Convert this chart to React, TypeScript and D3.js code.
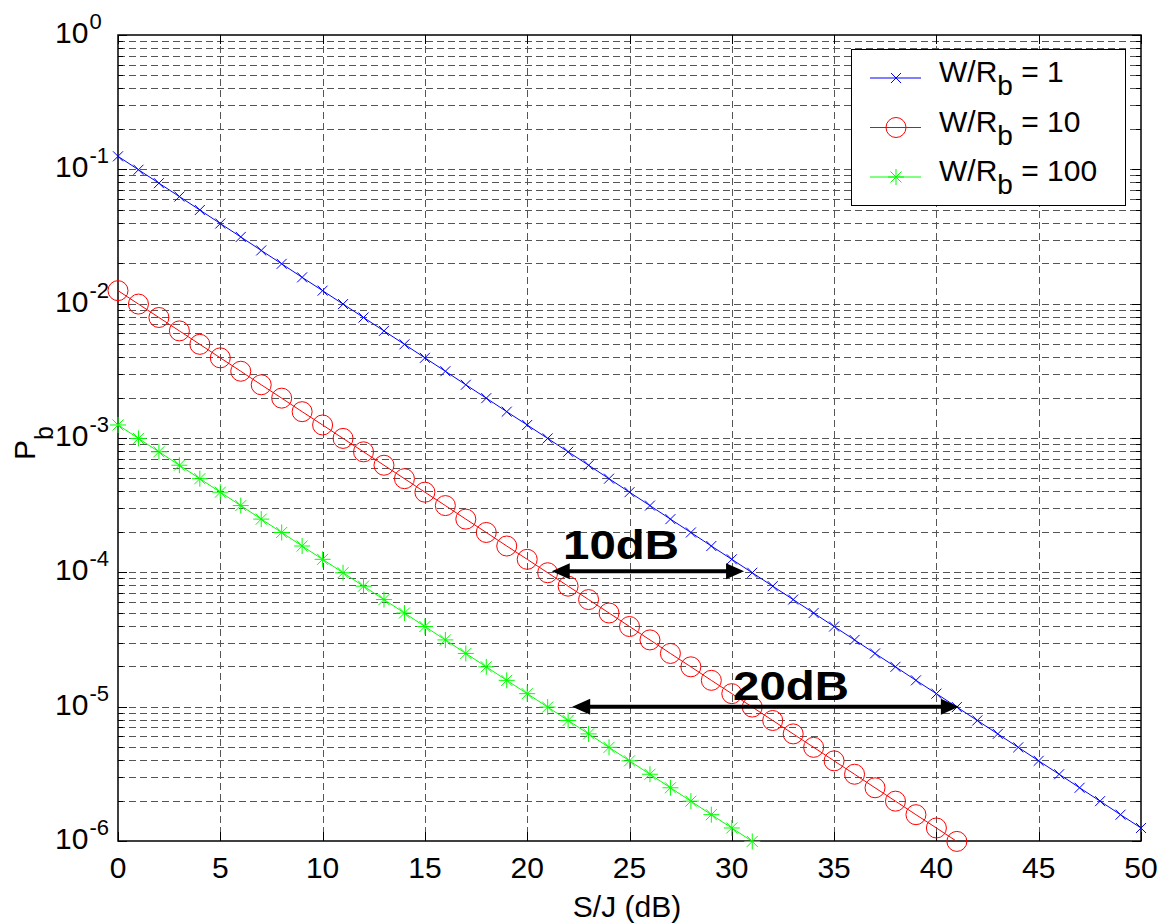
import React, { useEffect, useRef } from 'react';
import * as d3 from 'd3';

// S/J in dB, one point per dB
const sjDb = [
  0, 1, 2, 3, 4, 5, 6, 7, 8, 9, 10, 11, 12, 13, 14, 15, 16, 17, 18, 19, 20,
  21, 22, 23, 24, 25, 26, 27, 28, 29, 30, 31, 32, 33, 34, 35, 36, 37, 38, 39, 40,
  41, 42, 43, 44, 45, 46, 47, 48, 49, 50,
];

const pbW1 = [
  1.25e-1, 9.93e-2, 7.89e-2, 6.27e-2, 4.98e-2, 3.95e-2, 3.14e-2, 2.49e-2, 1.98e-2, 1.57e-2,
  1.25e-2, 9.93e-3, 7.89e-3, 6.27e-3, 4.98e-3, 3.95e-3, 3.14e-3, 2.49e-3, 1.98e-3, 1.57e-3,
  1.25e-3, 9.93e-4, 7.89e-4, 6.27e-4, 4.98e-4, 3.95e-4, 3.14e-4, 2.49e-4, 1.98e-4, 1.57e-4,
  1.25e-4, 9.93e-5, 7.89e-5, 6.27e-5, 4.98e-5, 3.95e-5, 3.14e-5, 2.49e-5, 1.98e-5, 1.57e-5,
  1.25e-5, 9.93e-6, 7.89e-6, 6.27e-6, 4.98e-6, 3.95e-6, 3.14e-6, 2.49e-6, 1.98e-6, 1.57e-6,
  1.25e-6,
];

const pbW10 = [
  1.25e-2, 9.93e-3, 7.89e-3, 6.27e-3, 4.98e-3, 3.95e-3, 3.14e-3, 2.49e-3, 1.98e-3, 1.57e-3,
  1.25e-3, 9.93e-4, 7.89e-4, 6.27e-4, 4.98e-4, 3.95e-4, 3.14e-4, 2.49e-4, 1.98e-4, 1.57e-4,
  1.25e-4, 9.93e-5, 7.89e-5, 6.27e-5, 4.98e-5, 3.95e-5, 3.14e-5, 2.49e-5, 1.98e-5, 1.57e-5,
  1.25e-5, 9.93e-6, 7.89e-6, 6.27e-6, 4.98e-6, 3.95e-6, 3.14e-6, 2.49e-6, 1.98e-6, 1.57e-6,
  1.25e-6, 9.93e-7,
];

const pbW100 = [
  1.25e-3, 9.93e-4, 7.89e-4, 6.27e-4, 4.98e-4, 3.95e-4, 3.14e-4, 2.49e-4, 1.98e-4, 1.57e-4,
  1.25e-4, 9.93e-5, 7.89e-5, 6.27e-5, 4.98e-5, 3.95e-5, 3.14e-5, 2.49e-5, 1.98e-5, 1.57e-5,
  1.25e-5, 9.93e-6, 7.89e-6, 6.27e-6, 4.98e-6, 3.95e-6, 3.14e-6, 2.49e-6, 1.98e-6, 1.57e-6,
  1.25e-6, 9.93e-7,
];

const xTicks = [0, 5, 10, 15, 20, 25, 30, 35, 40, 45, 50];
const yExponents = [0, -1, -2, -3, -4, -5, -6];
const legendLabels = ['1', '10', '100'];

// annotation arrows, from dB / to dB at a Pb level
const arrows = [
  { x0: 21.2, x1: 30.6, y: 1.02e-4, label: '10dB', tx: 563, ty: 559 },
  { x0: 22.2, x1: 41.1, y: 1.0e-5, label: '20dB', tx: 733, ty: 700 },
];

const FONT = '"Liberation Sans", Arial, Helvetica, sans-serif';

function App() {
  const ref = useRef(null);

  useEffect(() => {
    const svg = d3.select(ref.current);
    svg.selectAll('*').remove();

    const left = 118, right = 1141, top = 35, bottom = 841;
    const x = d3.scaleLinear().domain([0, 50]).range([left, right]);
    const y = d3.scaleLog().domain([1e-6, 1]).range([bottom, top]);

    svg.append('rect').attr('width', 1160).attr('height', 923).attr('fill', '#fff');

    // grid (dashed, major + minor on y)
    const grid = svg.append('g')
      .attr('stroke', '#555')
      .attr('stroke-width', 1)
      .attr('stroke-dasharray', '7,4')
      .attr('shape-rendering', 'crispEdges');

    const minor = [];
    for (let e = -6; e < 0; e++) {
      for (let m = 1; m <= 9; m++) minor.push(m * Math.pow(10, e));
    }
    minor.push(1);

    grid.selectAll('line.h')
      .data(minor.filter((v) => v > 1e-6 && v < 1))
      .enter().append('line')
      .attr('x1', left).attr('x2', right)
      .attr('y1', (d) => Math.round(y(d)) + 0.5)
      .attr('y2', (d) => Math.round(y(d)) + 0.5);

    grid.selectAll('line.v')
      .data(xTicks.slice(1, -1))
      .enter().append('line')
      .attr('y1', top).attr('y2', bottom)
      .attr('x1', (d) => Math.round(x(d)) + 0.5)
      .attr('x2', (d) => Math.round(x(d)) + 0.5);

    // ticks, inside on all four sides
    const ticks = svg.append('g').attr('stroke', '#000').attr('stroke-width', 1)
      .attr('shape-rendering', 'crispEdges');
    xTicks.forEach((t) => {
      const px = Math.round(x(t)) + 0.5;
      ticks.append('line').attr('x1', px).attr('x2', px).attr('y1', bottom).attr('y2', bottom - 9);
      ticks.append('line').attr('x1', px).attr('x2', px).attr('y1', top).attr('y2', top + 9);
    });
    minor.forEach((v) => {
      const py = Math.round(y(v)) + 0.5;
      const isMajor = yExponents.some((e) => Math.abs(Math.log10(v) - e) < 1e-9);
      const len = isMajor ? 9 : 5;
      ticks.append('line').attr('x1', left).attr('x2', left + len).attr('y1', py).attr('y2', py);
      ticks.append('line').attr('x1', right).attr('x2', right - len).attr('y1', py).attr('y2', py);
    });

    svg.append('rect')
      .attr('x', left).attr('y', top)
      .attr('width', right - left).attr('height', bottom - top)
      .attr('fill', 'none').attr('stroke', '#000').attr('stroke-width', 1.5);

    // tick labels
    svg.selectAll('text.xt')
      .data(xTicks)
      .enter().append('text')
      .attr('x', (d) => x(d))
      .attr('y', 878)
      .attr('text-anchor', 'middle')
      .attr('font-family', FONT)
      .attr('font-size', 30)
      .text((d) => d);

    yExponents.forEach((e) => {
      const t = svg.append('text')
        .attr('x', 55)
        .attr('y', y(Math.pow(10, e)) + 8)
        .attr('font-family', FONT)
        .attr('font-size', 30);
      t.append('tspan').text('10');
      t.append('tspan').attr('dx', 1).attr('dy', -14).attr('font-size', 22).text(e);
    });

    // axis labels
    svg.append('text')
      .attr('x', 627).attr('y', 917)
      .attr('text-anchor', 'middle')
      .attr('font-family', FONT).attr('font-size', 30)
      .text('S/J (dB)');

    const yl = svg.append('text')
      .attr('transform', 'translate(35,460) rotate(-90)')
      .attr('font-family', FONT).attr('font-size', 30);
    yl.append('tspan').text('P');
    yl.append('tspan').attr('dy', 18).attr('font-size', 25).text('b');

    // series
    const series = [
      { values: pbW1, color: '#0000ff', marker: 'x' },
      { values: pbW10, color: '#ff0000', marker: 'o' },
      { values: pbW100, color: '#00ff00', marker: '*' },
    ];

    const line = d3.line()
      .x((d) => x(d[0]))
      .y((d) => y(d[1]));

    const drawMarker = (g, kind, cx, cy, color) => {
      if (kind === 'x') {
        const s = 5;
        g.append('path').attr('d', `M${cx - s},${cy - s}L${cx + s},${cy + s}M${cx - s},${cy + s}L${cx + s},${cy - s}`)
          .attr('stroke', color).attr('stroke-width', 1).attr('fill', 'none');
      } else if (kind === 'o') {
        g.append('circle').attr('cx', cx).attr('cy', cy).attr('r', 10)
          .attr('stroke', color).attr('stroke-width', 1).attr('fill', 'none');
      } else {
        const s = 8, d = 5.5;
        g.append('path')
          .attr('d', `M${cx - s},${cy}L${cx + s},${cy}M${cx},${cy - s}L${cx},${cy + s}` +
            `M${cx - d},${cy - d}L${cx + d},${cy + d}M${cx - d},${cy + d}L${cx + d},${cy - d}`)
          .attr('stroke', color).attr('stroke-width', 1).attr('fill', 'none');
      }
    };

    series.forEach((s) => {
      const pts = s.values.map((v, i) => [sjDb[i], v]);
      svg.append('path')
        .attr('d', line(pts))
        .attr('fill', 'none')
        .attr('stroke', s.color)
        .attr('stroke-width', 1);
      const g = svg.append('g');
      pts.forEach((p) => drawMarker(g, s.marker, x(p[0]), y(p[1]), s.color));
    });

    // annotations
    arrows.forEach((a) => {
      const ax0 = x(a.x0), ax1 = x(a.x1), ay = y(a.y);
      const head = 18, hw = 8;
      svg.append('line')
        .attr('x1', ax0 + head - 2).attr('x2', ax1 - head + 2)
        .attr('y1', ay).attr('y2', ay)
        .attr('stroke', '#000').attr('stroke-width', 4);
      svg.append('path')
        .attr('d', `M${ax0},${ay}L${ax0 + head},${ay - hw}L${ax0 + head},${ay + hw}Z`)
        .attr('fill', '#000');
      svg.append('path')
        .attr('d', `M${ax1},${ay}L${ax1 - head},${ay - hw}L${ax1 - head},${ay + hw}Z`)
        .attr('fill', '#000');
      svg.append('text')
        .attr('x', a.tx).attr('y', a.ty)
        .attr('font-family', FONT).attr('font-size', 41).attr('font-weight', 'bold')
        .attr('textLength', 116).attr('lengthAdjust', 'spacingAndGlyphs')
        .text(a.label);
    });

    // legend
    const lg = svg.append('g');
    lg.append('rect')
      .attr('x', 851.5).attr('y', 49.5).attr('width', 274).attr('height', 156)
      .attr('fill', '#fff').attr('stroke', '#000').attr('stroke-width', 1);
    series.forEach((s, i) => {
      const cy = 78 + i * 49.5;
      lg.append('line')
        .attr('x1', 870).attr('x2', 921).attr('y1', cy).attr('y2', cy)
        .attr('stroke', s.color).attr('stroke-width', 1);
      drawMarker(lg, s.marker, 896, cy, s.color);
      const t = lg.append('text')
        .attr('x', 939).attr('y', cy + 4)
        .attr('font-family', FONT).attr('font-size', 30);
      t.append('tspan').text('W/R');
      t.append('tspan').attr('dy', 13).attr('font-size', 28).text('b');
      t.append('tspan').attr('dy', -13).text(' = ' + legendLabels[i]);
    });
  }, []);

  return (
    <svg
      ref={ref}
      width={1160}
      height={923}
      style={{ position: 'absolute', left: 0, top: 0, display: 'block' }}
    />
  );
}

export default App;
